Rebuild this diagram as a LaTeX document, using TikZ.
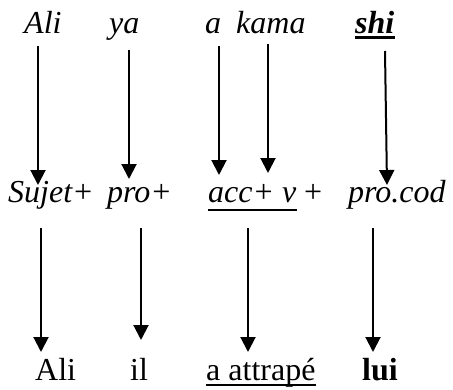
\documentclass[tikz,border=0pt]{standalone}
\usepackage{fontspec}
\setmainfont{Liberation Serif}
\usetikzlibrary{arrows.meta}
\begin{document}
\begin{tikzpicture}[x=1pt,y=-1pt,
  word/.style={inner sep=0pt,anchor=base west,font=\fontsize{32}{38}\selectfont},
  arr/.style={line width=2pt,-{Triangle[length=15pt,width=15pt]}},
  ul/.style={line width=1.4pt},
  ulb/.style={line width=3pt}]
\useasboundingbox (0,0) rectangle (453,389);
% top row
\node[word] (tAli) at (24,33) {\itshape Ali};
\node[word] (tya) at (109,33) {\itshape ya};
\node[word] (ta) at (205,33) {\itshape a};
\node[word] (tkama) at (236,33) {\itshape kama};
\node[word] (tshi) at (355,33) {\bfseries\itshape shi};
% middle row
\node[word] (mSujet) at (8,202) {\itshape Sujet+};
\node[word] (mpro) at (107,202) {\itshape pro+};
\node[word] (macc) at (208,202) {\itshape acc+ v};
\node[word] (mplus) at (304,202) {+};
\node[word] (mcod) at (348,202) {\itshape pro.cod};
% bottom row
\node[word] (bAli) at (35,380) {Ali};
\node[word] (bil) at (130,380) {il};
\node[word] (batt) at (206,380) {a attrapé};
\node[word] (blui) at (362,380) {\bfseries lui};
% underlines
\draw[ulb] ([yshift=-4.5pt]tshi.base west) -- ([yshift=-4.5pt]tshi.base east);
\draw[ul] ([yshift=-8pt]macc.base west) -- ([yshift=-8pt]macc.base east);
\draw[ul] ([yshift=-5pt]batt.base west) -- ([yshift=-5pt]batt.base east);
% arrow end points
\coordinate (s1) at (38,46);  \coordinate (e1) at (38,185);
\coordinate (s2) at (129,50); \coordinate (e2) at (129,179);
\coordinate (s3) at (219,46); \coordinate (e3) at (219,175);
\coordinate (s4) at (268,44); \coordinate (e4) at (268,173);
\coordinate (s5) at (385,51); \coordinate (e5) at (387,185);
\coordinate (s6) at (41,228); \coordinate (e6) at (41,352);
\coordinate (s7) at (141,228); \coordinate (e7) at (141,340);
\coordinate (s8) at (248,228); \coordinate (e8) at (248,352);
\coordinate (s9) at (373,228); \coordinate (e9) at (373,352);
\foreach \i in {1,...,9} {\draw[arr] (s\i) -- (e\i);}
\end{tikzpicture}
\end{document}
